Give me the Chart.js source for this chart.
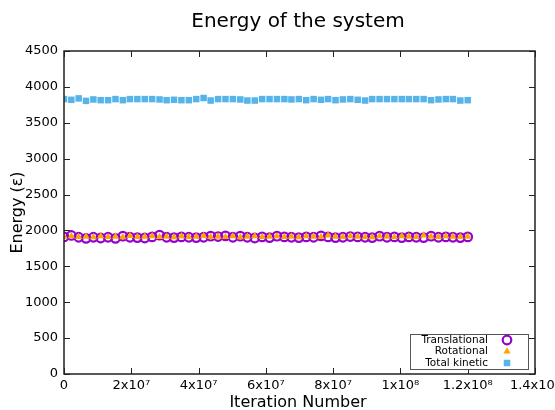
<!DOCTYPE html>
<html>
<head>
<meta charset="utf-8">
<script src="https://cdn.jsdelivr.net/npm/chart.js@4.4.1/dist/chart.umd.min.js"></script>
<style>
  html, body { margin: 0; padding: 0; background: #fff; }
  #wrap { width: 555px; height: 410px; }
</style>
</head>
<body>
<div id="wrap"><canvas id="energyChart" width="555" height="410"></canvas></div>
<script>
// iteration numbers, in millions
const iterationsM = [0, 2.18, 4.36, 6.55, 8.73, 10.9, 13.1, 15.3, 17.5, 19.6, 21.8, 24, 26.2, 28.4, 30.5, 32.7,
    34.9, 37.1, 39.3, 41.5, 43.6, 45.8, 48, 50.2, 52.4, 54.5, 56.7, 58.9, 61.1, 63.3, 65.5, 67.6,
    69.8, 72, 74.2, 76.4, 78.5, 80.7, 82.9, 85.1, 87.3, 89.5, 91.6, 93.8, 96, 98.2, 100.4, 102.5,
    104.7, 106.9, 109.1, 111.3, 113.5, 115.6, 117.8, 120];

const translational = [1910, 1930, 1905, 1890, 1905, 1895, 1905, 1890, 1920, 1905, 1900, 1895, 1910, 1935, 1905, 1900,
    1910, 1905, 1900, 1905, 1920, 1915, 1925, 1905, 1920, 1905, 1895, 1910, 1900, 1920, 1910, 1905,
    1900, 1910, 1905, 1925, 1910, 1900, 1905, 1915, 1910, 1905, 1900, 1920, 1905, 1910, 1900, 1910,
    1905, 1900, 1920, 1905, 1910, 1905, 1900, 1910];

const rotational = [1915, 1920, 1910, 1915, 1905, 1920, 1910, 1915, 1905, 1925, 1910, 1915, 1920, 1910, 1915, 1905,
    1920, 1910, 1915, 1925, 1910, 1915, 1910, 1920, 1905, 1915, 1920, 1910, 1915, 1920, 1910, 1915,
    1905, 1920, 1915, 1910, 1930, 1915, 1910, 1920, 1915, 1910, 1905, 1920, 1915, 1910, 1920, 1915,
    1910, 1930, 1915, 1910, 1920, 1915, 1910, 1915];

const totalKinetic = [3830, 3820, 3840, 3805, 3825, 3815, 3815, 3830, 3815, 3830, 3830, 3830, 3830, 3825, 3815, 3820,
    3815, 3815, 3830, 3845, 3810, 3830, 3830, 3830, 3825, 3810, 3810, 3830, 3830, 3830, 3830, 3825,
    3830, 3815, 3830, 3820, 3830, 3815, 3825, 3830, 3820, 3810, 3830, 3830, 3830, 3830, 3830, 3830,
    3830, 3830, 3815, 3825, 3830, 3830, 3810, 3815];

const seriesNames = ['Translational', 'Rotational', 'Total kinetic'];
const xTickValues = [0, 2e7, 4e7, 6e7, 8e7, 1e8, 1.2e8, 1.4e8];
const xTickLabels = ['0', '2x10\u2077', '4x10\u2077', '6x10\u2077', '8x10\u2077', '1x10\u2078', '1.2x10\u2078', '1.4x10\u2078'];
const yTickValues = [0, 500, 1000, 1500, 2000, 2500, 3000, 3500, 4000, 4500];

const PURPLE = '#9400d3';
const ORANGE = '#ffa500';
const BLUE = '#56b4e9';

Chart.defaults.font.family = "'DejaVu Sans', sans-serif";
Chart.defaults.color = '#000';

function toPoints(values) {
    return values.map((v, i) => ({x: iterationsM[i] * 1e6, y: v}));
}

const pointStyles = [
    {pointStyle: 'circle', radius: 4.3, borderWidth: 2.2, borderColor: PURPLE, backgroundColor: 'rgba(0,0,0,0)'},
    {pointStyle: 'triangle', radius: 4.2, borderWidth: 0, borderColor: ORANGE, backgroundColor: ORANGE},
    {pointStyle: 'rect', radius: 4.6, borderWidth: 0, borderColor: BLUE, backgroundColor: BLUE}
];

// frame, inward ticks, titles and the legend box
const framePlugin = {
    id: 'frame',
    afterDraw(chart) {
        const ctx = chart.ctx;
        const a = chart.chartArea;
        const xs = chart.scales.x, ys = chart.scales.y;
        ctx.save();
        ctx.strokeStyle = '#222';
        ctx.lineWidth = 1.5;
        ctx.strokeRect(a.left, a.top, a.right - a.left, a.bottom - a.top);
        ctx.lineWidth = 1;
        ctx.beginPath();
        xTickValues.forEach(v => {
            const px = Math.round(xs.getPixelForValue(v)) + 0.5;
            ctx.moveTo(px, a.bottom); ctx.lineTo(px, a.bottom - 6);
            ctx.moveTo(px, a.top); ctx.lineTo(px, a.top + 6);
        });
        yTickValues.forEach(v => {
            const py = Math.round(ys.getPixelForValue(v)) + 0.5;
            ctx.moveTo(a.left, py); ctx.lineTo(a.left + 6, py);
            ctx.moveTo(a.right, py); ctx.lineTo(a.right - 6, py);
        });
        ctx.stroke();

        // titles
        ctx.fillStyle = '#000';
        ctx.textAlign = 'center';
        ctx.textBaseline = 'middle';
        ctx.font = "20px 'DejaVu Sans'";
        ctx.fillText('Energy of the system', 298, 22);
        ctx.font = "16px 'DejaVu Sans'";
        ctx.fillText('Iteration Number', 298, 403);
        ctx.save();
        ctx.translate(18, (a.top + a.bottom) / 2);
        ctx.rotate(-Math.PI / 2);
        ctx.fillText('Energy (\u03b5)', 0, 0);
        ctx.restore();

        // legend
        ctx.fillStyle = '#fff';
        ctx.fillRect(410, 334, 118, 35);
        ctx.strokeStyle = '#555';
        ctx.lineWidth = 1;
        ctx.strokeRect(410.5, 334.5, 118, 35);
        ctx.font = "10.5px 'DejaVu Sans'";
        ctx.textAlign = 'right';
        ctx.fillStyle = '#000';
        const rows = [340, 351.5, 363];
        seriesNames.forEach((name, i) => {
            ctx.fillText(name, 488, rows[i]);
            const st = pointStyles[i];
            ctx.fillStyle = st.backgroundColor;
            ctx.strokeStyle = st.borderColor;
            ctx.lineWidth = st.borderWidth;
            Chart.helpers.drawPoint(ctx, {
                pointStyle: st.pointStyle, radius: st.radius, borderWidth: st.borderWidth, rotation: 0
            }, 507, rows[i]);
            ctx.fillStyle = '#000';
        });
        ctx.restore();
    }
};

const seriesData = [translational, rotational, totalKinetic];
const drawOrder = [1, 0, 2];

const ctx = document.getElementById('energyChart').getContext('2d');
new Chart(ctx, {
    type: 'scatter',
    data: {
        datasets: seriesData.map((vals, i) => ({
            label: seriesNames[i],
            data: toPoints(vals),
            order: drawOrder[i],
            pointStyle: pointStyles[i].pointStyle,
            pointRadius: pointStyles[i].radius,
            pointBorderWidth: pointStyles[i].borderWidth,
            pointBorderColor: pointStyles[i].borderColor,
            pointBackgroundColor: pointStyles[i].backgroundColor,
            showLine: false
        }))
    },
    options: {
        responsive: false,
        animation: false,
        events: [],
        layout: {autoPadding: false, padding: {top: 51, right: 20, left: 0, bottom: 0}},
        plugins: {legend: {display: false}, tooltip: {enabled: false}, title: {display: false}},
        scales: {
            x: {
                type: 'linear', min: 0, max: 1.4e8,
                afterFit(s) { s.height = 36; s.paddingLeft = 0; s.paddingRight = 0; },
                afterBuildTicks(s) { s.ticks = xTickValues.map(v => ({value: v})); },
                grid: {display: false, drawTicks: false},
                border: {display: false},
                ticks: {
                    autoSkip: false, maxRotation: 0, padding: 4,
                    font: {size: 13},
                    callback: v => xTickLabels[xTickValues.indexOf(v)]
                }
            },
            y: {
                min: 0, max: 4500,
                afterFit(s) { s.width = 64; s.paddingTop = 0; s.paddingBottom = 0; },
                afterBuildTicks(s) { s.ticks = yTickValues.map(v => ({value: v})); },
                grid: {display: false, drawTicks: false},
                border: {display: false},
                ticks: {padding: 6, font: {size: 13}, callback: v => String(v)}
            }
        }
    },
    plugins: [framePlugin]
});
</script>
</body>
</html>
